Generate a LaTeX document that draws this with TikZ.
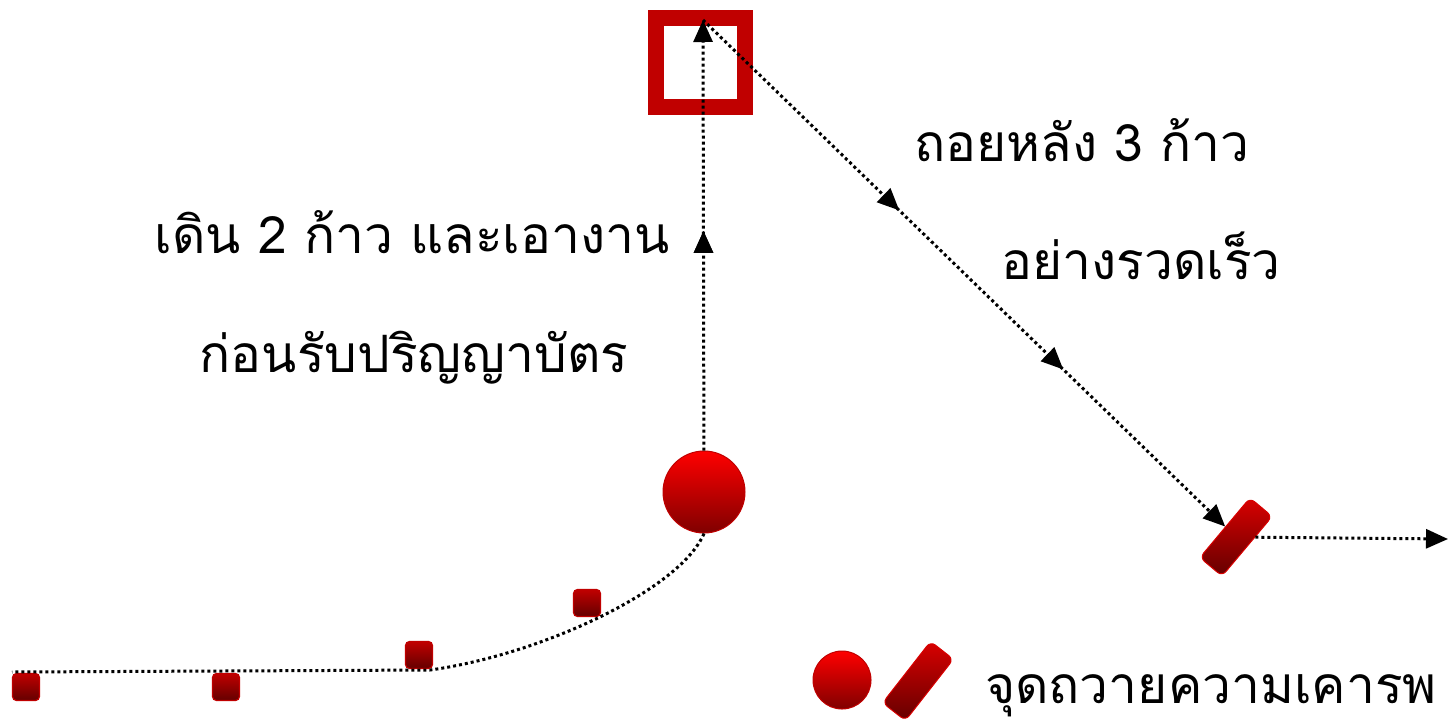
\documentclass[tikz,border=0pt]{standalone}
\usepackage{fontspec}
\newfontfamily\thaifont[Script=Thai]{Loma}
\usetikzlibrary{positioning,arrows.meta,decorations.markings}
\definecolor{flagred}{HTML}{C00000}
\definecolor{brightred}{HTML}{FF0000}
\definecolor{darkmaroon}{HTML}{640000}

\begin{document}
\begin{tikzpicture}
        [x=1pt,y=-1pt,every node/.style={inner sep=0pt},
         saytext/.style={font=\thaifont\fontsize{51.5}{55}\selectfont,anchor=base},
         walk/.style={line width=3pt,dash pattern=on 3pt off 3pt},
         tipend/.style={-{Triangle[length=22pt,width=19pt]}},
         midtips/.style 2 args={postaction={decorate},decoration={markings,
             mark=at position #1 with {\arrow{Triangle[length=22pt,width=19pt]}},
             mark=at position #2 with {\arrow{Triangle[length=22pt,width=19pt]}}}},
         ball/.style={circle,minimum size=82pt,draw=flagred,line width=1pt,
             top color=brightred,bottom color=red!50!black},
         stepbox/.style={rectangle,rounded corners=4pt,minimum size=27pt,draw=flagred,
             line width=1.2pt,top color=flagred,bottom color=darkmaroon},
         bar/.style={rectangle,rounded corners=6pt,minimum width=78pt,minimum height=29pt,
             draw=red!85!black,line width=1pt,top color=red!85!black,bottom color=darkmaroon}]
        \useasboundingbox (0,0) rectangle (1450,724);

        \node (frame) [draw=flagred,line width=16pt,minimum size=89pt] at (700,62) {};
        \node[ball] (circ) at (704,492) {};
        \node[bar,rotate=50] (rect) at (1236,537) {};
        \coordinate (top) at (703,20);
        \coordinate (out) at (1448,539);

        \node[stepbox] (s1) at (26,687) {};
        \node[stepbox] (s2) at (226,687) {};
        \node[stepbox] (s3) at (419,655) {};
        \node[stepbox] (s4) at (587,603) {};
        \coordinate (bend) at (430,670);
        \coordinate (start) at (12,672);

        \node[saytext] (back) at (1082,161) {ถอยหลัง 3 ก้าว};
        \node[saytext] (quick) at (1141,279) {อย่างรวดเร็ว};
        \node[saytext] (twosteps) at (412,253) {เดิน 2 ก้าว และเอางาน};
        \node[saytext] (degree) at (414,372) {ก่อนรับปริญญาบัตร};

        % walking path
        \draw[walk] (circ.south) .. controls (680,590) and (540,655) .. (bend) -- (start);
        \draw[walk,tipend,midtips={0.51}{0.51}] (circ) -- (top);
        \draw[walk,tipend,midtips={0.376}{0.69}] (top) -- (rect);
        \draw[walk,tipend] (rect) -- (out);

        % legend
        \node[ball,minimum size=58pt] (lball) at (842,680) {};
        \node[bar,rotate=52] (lbar) at (918,681) {};
        \node[saytext,anchor=base west] (legend) at (985,703) {จุดถวายความเคารพ};
\end{tikzpicture}
\end{document}
